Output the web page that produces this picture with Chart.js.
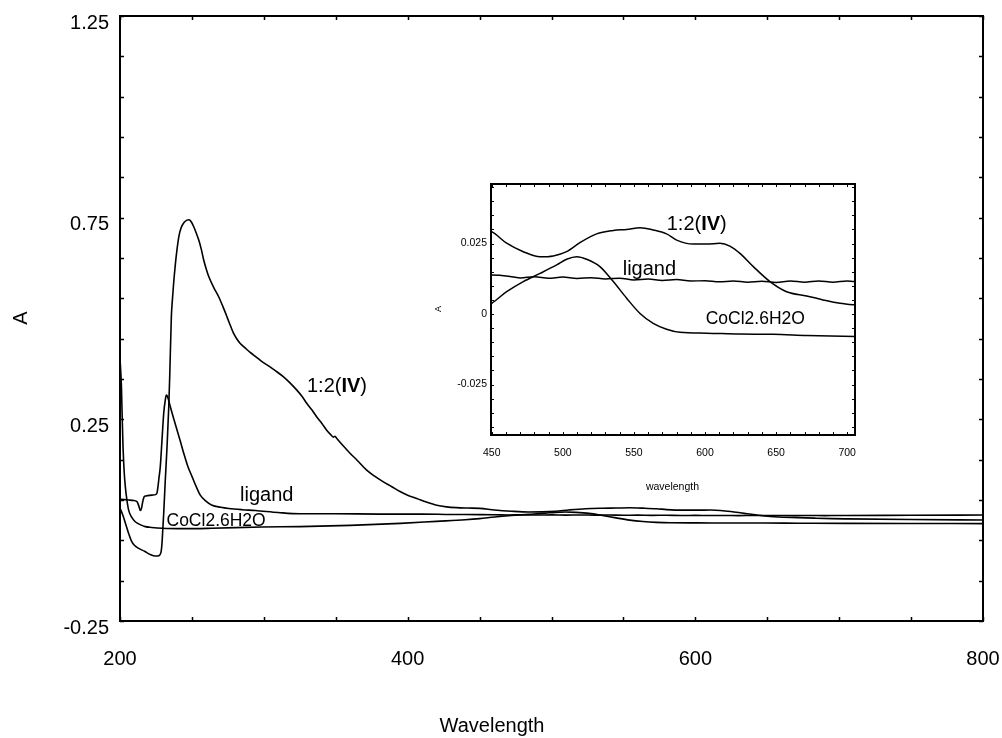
<!DOCTYPE html>
<html><head><meta charset="utf-8">
<script src="https://cdn.jsdelivr.net/npm/chart.js@4/dist/chart.umd.min.js"></script>
<style>
html,body{margin:0;padding:0;background:#fff;}
#wrap{position:relative;width:1002px;height:738px;overflow:hidden;}
#main{position:absolute;left:0;top:0;}
#inset{position:absolute;left:420px;top:170px;}
</style></head><body>
<div id="wrap"><canvas id="main" width="1002" height="738"></canvas><canvas id="inset" width="450" height="330"></canvas></div>
<script>
// ---- data ----
const complexX = [200,202,204,206,208,210,213,217,221,224.5,227,228.5,229.2,229.8,230.4,231.5,232.7,233.9,234.6,235.7,236.5,237.3,238.5,239.6,241,242.5,244.5,246.5,248,249.5,251.2,253,254.7,256.5,258.2,260,261.7,265,268.6,271.5,274.4,277,279,281.5,283.6,287,290.5,294.5,298.7,304.3,309,313.5,318,322.8,326.5,329.8,333.5,336.8,340.5,343.7,346.5,348.3,349.5,350.6,355,359.9,365,371.5,377,383.1,389,394.7,400,406.3,413,420.2,427,434,442,450,460.5,472.2,484,493.3,502.7,512.1,523.8,535.5,544.9,554.3,563.6,573,580.1,591.7,601.2,610.5,617.5,624.6,634,645.7,657.4,671.5,683.1,694.9,705.4,750,800];
const complexY = [0.030,0.012,-0.010,-0.033,-0.052,-0.062,-0.070,-0.077,-0.085,-0.089,-0.088,-0.080,-0.057,-0.020,0.018,0.100,0.182,0.281,0.360,0.504,0.550,0.588,0.635,0.670,0.705,0.725,0.738,0.744,0.745,0.740,0.728,0.712,0.695,0.672,0.645,0.622,0.604,0.578,0.554,0.530,0.504,0.480,0.463,0.448,0.438,0.427,0.416,0.405,0.393,0.380,0.368,0.356,0.341,0.323,0.307,0.290,0.273,0.256,0.239,0.223,0.212,0.206,0.208,0.203,0.185,0.166,0.148,0.124,0.109,0.095,0.083,0.071,0.062,0.054,0.045,0.037,0.033,0.031,0.030,0.0292,0.0251,0.0221,0.0203,0.0206,0.0221,0.0253,0.0284,0.0296,0.0300,0.0306,0.0298,0.0284,0.0262,0.0248,0.0248,0.0251,0.0241,0.0215,0.0168,0.0115,0.0079,0.0064,0.0050,0.0038,0.0032,0.0015,0.0003];

const ligandX = [200,203,206,209,211.8,213,214.2,215,215.8,216.8,218,222.2,225,225.7,226.4,227.2,228,229.2,230.4,231.5,232.2,233,235,237.3,239.6,242,244.3,247,250.1,253,255.8,259.5,264,270,275.6,285,294.1,310,325,350,380,410,430,450,460,470,480,490,500,510,520,530,540,550,560,570,580,590,600,610,620,630,640,650,660,670,680,690,700,705,750,800];
const ligandY = [0.052,0.051,0.050,0.049,0.046,0.036,0.024,0.030,0.046,0.058,0.060,0.062,0.064,0.067,0.083,0.108,0.132,0.199,0.265,0.298,0.310,0.307,0.281,0.252,0.224,0.195,0.166,0.135,0.108,0.083,0.062,0.048,0.037,0.032,0.029,0.026,0.024,0.019,0.016,0.016,0.015,0.015,0.014,0.0138,0.0135,0.0128,0.0132,0.0127,0.0131,0.0126,0.0129,0.0124,0.0127,0.0121,0.0124,0.0119,0.0122,0.0117,0.0118,0.0114,0.0117,0.0113,0.0116,0.0112,0.0117,0.0113,0.0117,0.0113,0.0117,0.0115,0.0122,0.0127];

const cocl2X = [200,200.5,201,201.5,202.1,202.9,203.7,204.8,206,208,210.6,214,217.6,222,229.2,245,264,298.7,325,360,395,420,440,450,460.5,472.2,484,495.7,502.7,509.8,516.8,526.1,535.5,544.9,554.3,563.6,573,582.4,601.2,624.6,648,671.5,705.4,750,800];
const cocl2Y = [0.40,0.37,0.33,0.26,0.182,0.12,0.083,0.050,0.025,0.008,-0.004,-0.011,-0.016,-0.018,-0.020,-0.021,-0.020,-0.017,-0.016,-0.013,-0.008,-0.003,0.001,0.0038,0.0079,0.0115,0.0144,0.0174,0.0194,0.0203,0.0194,0.0168,0.0115,0.0056,0.0002,-0.0033,-0.0054,-0.0065,-0.0068,-0.0071,-0.0072,-0.0076,-0.0080,-0.0082,-0.0085];

// tick labels
const mainXTicks = [200,400,600,800];
const mainXLabels = ['200','400','600','800'];
const mainYTicks = [-0.25,0.25,0.75,1.25];
const mainYLabels = ['-0.25','0.25','0.75','1.25'];
const insetXTicks = [450,500,550,600,650,700];
const insetXLabels = ['450','500','550','600','650','700'];
const insetYTicks = [-0.025,0,0.025];
const insetYLabels = ['-0.025','0','0.025'];

const FONT = '"Liberation Sans", Arial, Helvetica, sans-serif';

function pts(xs, ys){ return xs.map((x,i)=>({x:x, y:ys[i]})); }
function series(xs, ys, lw){
  return {data: pts(xs,ys), borderColor:'#000', borderWidth:lw, pointRadius:0, fill:false, cubicInterpolationMode:'monotone', showLine:true};
}
function range(a,b,s){ const r=[]; for(let v=a; v<=b+1e-9; v+=s) r.push(+v.toFixed(6)); return r; }
function noPad(s){ s.paddingLeft=0; s.paddingRight=0; s.paddingTop=0; s.paddingBottom=0; }

function framePlugin(cfg){
  return {
    id:'frame_'+cfg.name,
    beforeDraw(chart){
      if(!cfg.fill) return;
      const a=chart.chartArea, c=chart.ctx;
      c.save(); c.fillStyle='#fff'; c.fillRect(a.left,a.top,a.right-a.left,a.bottom-a.top); c.restore();
    },
    afterDraw(chart){
      const c=chart.ctx, a=chart.chartArea, xs=chart.scales.x, ys=chart.scales.y;
      c.save();
      c.strokeStyle='#000';
      c.lineWidth=cfg.tw;
      c.beginPath();
      cfg.xMinor.forEach(v=>{ const p=Math.round(xs.getPixelForValue(v))+0.5;
        c.moveTo(p,a.bottom); c.lineTo(p,a.bottom-cfg.tl);
        c.moveTo(p,a.top); c.lineTo(p,a.top+cfg.tl); });
      cfg.yMinor.forEach(v=>{ const p=Math.round(ys.getPixelForValue(v))+0.5;
        c.moveTo(a.left,p); c.lineTo(a.left+cfg.tl,p);
        c.moveTo(a.right,p); c.lineTo(a.right-cfg.tl,p); });
      c.stroke();
      c.lineWidth=cfg.lw;
      c.strokeRect(a.left,a.top,a.right-a.left,a.bottom-a.top);
      c.fillStyle='#000';
      cfg.texts(c);
      c.restore();
    }
  };
}

function drawLabelIV(c, x, y, size){
  c.textAlign='left'; c.textBaseline='alphabetic';
  c.font = size+'px '+FONT; c.fillText('1:2(', x, y); let w=c.measureText('1:2(').width;
  c.font = 'bold '+size+'px '+FONT; c.fillText('IV', x+w, y); w+=c.measureText('IV').width;
  c.font = size+'px '+FONT; c.fillText(')', x+w, y);
}
function rotText(c, t, x, y, size){
  c.save(); c.translate(x,y); c.rotate(-Math.PI/2);
  c.font = size+'px '+FONT; c.textAlign='center'; c.textBaseline='middle'; c.fillText(t,0,0); c.restore();
}

// ---- main chart ----
new Chart(document.getElementById('main'), {
  type:'scatter',
  data:{datasets:[series(complexX,complexY,1.6), series(ligandX,ligandY,1.6), series(cocl2X,cocl2Y,1.6)]},
  options:{
    responsive:false, animation:false, devicePixelRatio:1,
    layout:{padding:{top:16,right:19,left:0,bottom:0}},
    plugins:{legend:{display:false}, tooltip:{enabled:false}},
    scales:{
      x:{type:'linear', min:200, max:800,
         grid:{display:false, drawTicks:false}, border:{display:false},
         afterBuildTicks(s){ s.ticks = mainXTicks.map(v=>({value:v})); },
         afterFit(s){ s.height = 117; noPad(s); },
         ticks:{padding:26, maxRotation:0, autoSkip:false, color:'#000', font:{family:FONT,size:20},
           callback:(v)=>{ const i=mainXTicks.indexOf(v); return i<0?'':mainXLabels[i]; }}},
      y:{type:'linear', min:-0.25, max:1.25,
         grid:{display:false, drawTicks:false}, border:{display:false},
         afterBuildTicks(s){ s.ticks = mainYTicks.map(v=>({value:v})); },
         afterFit(s){ s.width = 120; noPad(s); },
         ticks:{padding:11, labelOffset:7, autoSkip:false, color:'#000', font:{family:FONT,size:20},
           callback:(v)=>{ const i=mainYTicks.findIndex(t=>Math.abs(t-v)<1e-9); return i<0?'':mainYLabels[i]; }}}
    }
  },
  plugins:[framePlugin({name:'main', lw:2, tw:1.5, tl:4, fill:false,
    xMinor: range(200,800,50), yMinor: range(-0.25,1.25,0.1),
    texts(c){
      drawLabelIV(c, 307, 392, 20);
      c.font='20px '+FONT; c.textAlign='left'; c.textBaseline='alphabetic';
      c.fillText('ligand', 240, 501);
      c.font='17.5px '+FONT; c.fillText('CoCl2.6H2O', 166.5, 526);
      c.font='20px '+FONT; c.textAlign='center'; c.fillText('Wavelength', 492, 732);
      rotText(c, 'A', 21, 318, 20);
    }})]
});

// ---- inset chart ----
const OX=420, OY=170;
new Chart(document.getElementById('inset'), {
  type:'scatter',
  data:{datasets:[series(complexX,complexY,1.5), series(ligandX,ligandY,1.5), series(cocl2X,cocl2Y,1.5)]},
  options:{
    responsive:false, animation:false, devicePixelRatio:1,
    layout:{padding:{top:14,right:15,left:0,bottom:0}},
    plugins:{legend:{display:false}, tooltip:{enabled:false}},
    scales:{
      x:{type:'linear', min:449.5, max:705.5,
         grid:{display:false, drawTicks:false}, border:{display:false},
         afterBuildTicks(s){ s.ticks = insetXTicks.map(v=>({value:v})); },
         afterFit(s){ s.height = 65; noPad(s); },
         ticks:{padding:12, maxRotation:0, autoSkip:false, color:'#000', font:{family:FONT,size:10.5},
           callback:(v)=>{ const i=insetXTicks.indexOf(v); return i<0?'':insetXLabels[i]; }}},
      y:{type:'linear', min:-0.0429, max:0.0461,
         grid:{display:false, drawTicks:false}, border:{display:false},
         afterBuildTicks(s){ s.ticks = insetYTicks.map(v=>({value:v})); },
         afterFit(s){ s.width = 71; noPad(s); },
         ticks:{padding:4, autoSkip:false, color:'#000', font:{family:FONT,size:10.5},
           callback:(v)=>{ const i=insetYTicks.findIndex(t=>Math.abs(t-v)<1e-9); return i<0?'':insetYLabels[i]; }}}
    }
  },
  plugins:[framePlugin({name:'inset', lw:2, tw:1, tl:3, fill:true,
    xMinor: range(450,700,10), yMinor: range(-0.04,0.045,0.005),
    texts(c){
      drawLabelIV(c, 666.7-OX, 229.5-OY, 20);
      c.font='20px '+FONT; c.textAlign='left'; c.textBaseline='alphabetic';
      c.fillText('ligand', 622.7-OX, 275-OY);
      c.font='17.5px '+FONT; c.fillText('CoCl2.6H2O', 705.7-OX, 324-OY);
      c.font='10.5px '+FONT; c.textAlign='center'; c.fillText('wavelength', 672.5-OX, 489.5-OY);
      rotText(c, 'A', 438.5-OX, 309-OY, 9);
    }})]
});
</script>
</body></html>
